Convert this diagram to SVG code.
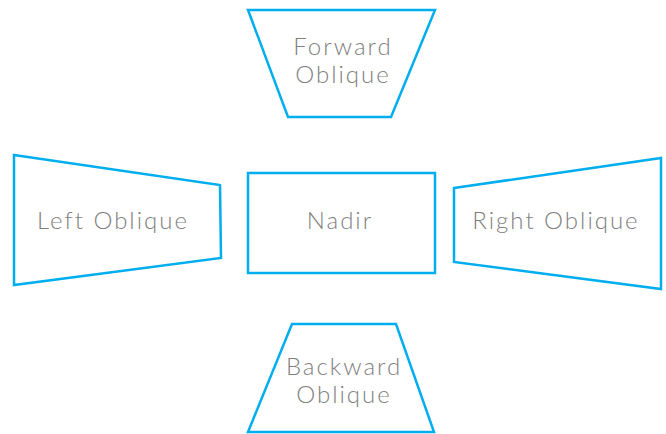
<svg xmlns="http://www.w3.org/2000/svg" width="666" height="434" viewBox="0 0 666 434">
<style>
.s{fill:#fff;stroke:#00aeef;stroke-width:2.5;stroke-linejoin:miter}
.t{font-family:Lato,"Open Sans",sans-serif;font-weight:300;font-size:24px;letter-spacing:2px;fill:#808080;text-anchor:middle}
</style>
<rect width="666" height="434" fill="#fff"/>
<g id="forward">
<polygon class="s" points="248,10 435,10 391,117 288,117"/>
<text class="t" x="343" y="55">Forward</text>
<text class="t" x="343" y="83">Oblique</text>
</g>
<g id="left">
<polygon class="s" points="14,155 220,185 221,258 14,285"/>
<text class="t" x="113" y="229">Left Oblique</text>
</g>
<g id="nadir">
<rect class="s" x="248" y="173" width="187" height="100"/>
<text class="t" x="340" y="229">Nadir</text>
</g>
<g id="right">
<polygon class="s" points="454,188 661,158 661,289 454,262"/>
<text class="t" x="556" y="229">Right Oblique</text>
</g>
<g id="backward">
<polygon class="s" points="292,324 396,324 434,432 248,432"/>
<text class="t" x="344" y="375">Backward</text>
<text class="t" x="344" y="403">Oblique</text>
</g>
<g id="connectors"/>
</svg>
